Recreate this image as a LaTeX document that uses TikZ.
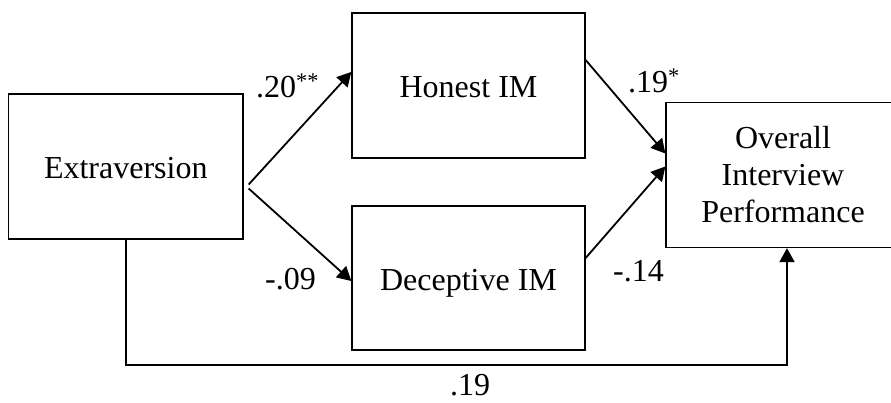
\documentclass[tikz,border=0pt]{standalone}
\usepackage{fontspec}
\setmainfont{Liberation Serif}
\usetikzlibrary{arrows.meta,calc}

\begin{document}
\begin{tikzpicture}[
  x=1pt, y=-1pt,
  font=\fontsize{32}{37}\selectfont,
  varbox/.style={draw, line width=1.3pt, inner sep=0pt, align=center},
  oneline/.style={text height=25pt, text depth=0pt},
  path/.style={line width=1.8pt, -{Triangle[length=14pt,width=15pt]}},
  coef/.style={inner sep=0pt}
]
\useasboundingbox (0,0) rectangle (891,403);

% variables
\node[varbox, oneline, minimum width=234.5pt, minimum height=145pt] (ext) at (125.75,166.5) {Extraversion};
\node[varbox, oneline, minimum width=233pt, minimum height=145pt] (hon) at (468.5,85.5) {Honest IM};
\node[varbox, oneline, minimum width=233pt, minimum height=144pt] (dec) at (468.5,278) {Deceptive IM};
\node[varbox, minimum width=234pt, minimum height=145pt] (ovr) at (783,175) {Overall\\Interview\\Performance};

% paths
\coordinate (fork) at ($(ext.east)+(5,18)$);
\draw[path] (fork) -- ($(hon.west)+(0,-13.5)$);
\draw[path] ($(fork)+(0,4)$) -- ($(dec.west)+(0,3)$);
\draw[path] ($(hon.east)+(0,-25.5)$) -- ($(ovr.west)+(0,-21.5)$);
\draw[path] ($(dec.east)+(0,-20)$) -- ($(ovr.west)+(0,-8.5)$);
\draw[path] (ext.south) -- ++(0,125) -| ($(ovr.south)+(4,0)$);

% coefficients
\node[coef, anchor=base west] (c1) at (256,98) {.20\textsuperscript{**}};
\node[coef, anchor=base west] (c2) at (628,93) {.19\textsuperscript{*}};
\node[coef, anchor=base west] (c3) at (265,290) {-.09};
\node[coef, anchor=base west] (c4) at (613,282) {-.14};
\node[coef, anchor=base] (c5) at (470,395) {.19};
\end{tikzpicture}
\end{document}
